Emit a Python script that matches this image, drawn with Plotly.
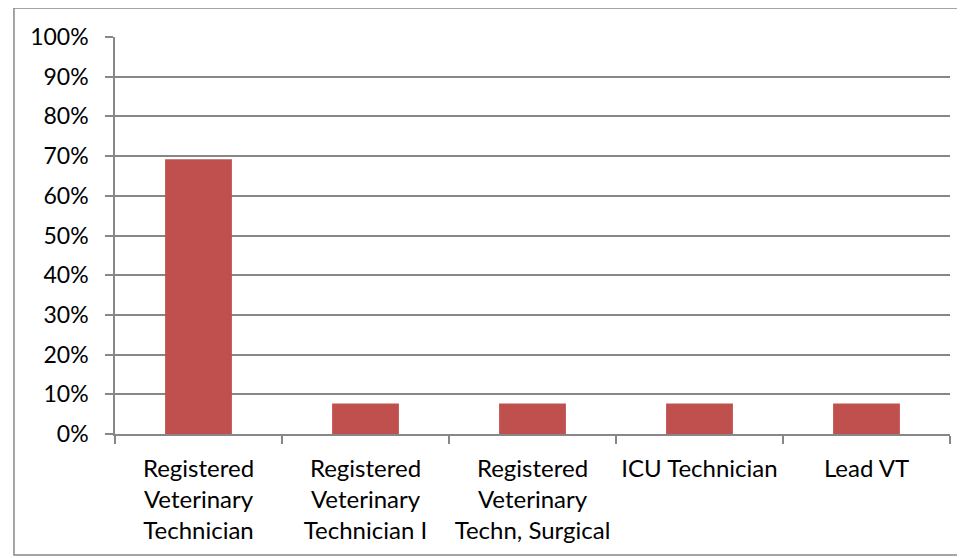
import plotly.graph_objects as go

# Data
categories = ["Registered<br>Veterinary<br>Technician",
              "Registered<br>Veterinary<br>Technician I",
              "Registered<br>Veterinary<br>Techn, Surgical",
              "ICU Technician",
              "Lead VT"]
shares = [69.2, 7.7, 7.7, 7.7, 7.7]
y_ticks = list(range(0, 101, 10))
y_labels = [f"{v}%" for v in y_ticks]

grid = "#878787"

fig = go.Figure(go.Bar(x=categories, y=shares,
                       marker=dict(color="#C0504D", line=dict(width=0)),
                       width=0.4))

# page body has an 8px margin, so the figure is a bit smaller than the window
fig.update_layout(
    width=957, height=550,
    margin=dict(l=107, r=15, t=29, b=124),
    paper_bgcolor="white", plot_bgcolor="white",
    font=dict(family="Lato, Liberation Sans, sans-serif", size=23, color="black"),
    showlegend=False,
    bargap=0.6,
)

fig.update_xaxes(showline=True, linecolor=grid, linewidth=1.5,
                 ticks="outside", tickson="boundaries", ticklen=8,
                 tickcolor=grid, tickwidth=1.5, tickangle=0,
                 tickfont=dict(size=24), ticklabelstandoff=12,
                 showgrid=False, fixedrange=True)
fig.update_yaxes(range=[0, 100], tickvals=y_ticks, ticktext=y_labels,
                 showline=True, linecolor=grid, linewidth=1.5,
                 ticks="outside", ticklen=8, tickcolor=grid, tickwidth=1.5,
                 ticklabelstandoff=12,
                 showgrid=True, gridcolor=grid, gridwidth=1.5,
                 zeroline=False, fixedrange=True)

# outer chart border
fig.add_shape(type="rect", xref="paper", yref="paper",
              x0=-0.121, x1=1.0156, y0=-0.305, y1=1.073,
              line=dict(color="#888888", width=1.5), layer="below")

fig.write_html("out.html")
